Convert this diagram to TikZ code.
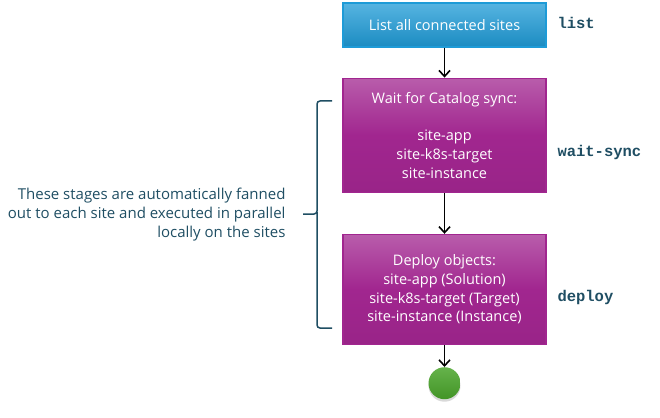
\documentclass[tikz,border=0pt]{standalone}
\usepackage{fontspec}
\setmainfont{Open Sans}
\newfontfamily\codefont{Liberation Mono}
\usepackage{xcolor}
\usepackage{tikz}
\usetikzlibrary{arrows.meta}
\usetikzlibrary{positioning}
\usetikzlibrary{shadows}

\definecolor{noteteal}{HTML}{1F4E63}
\definecolor{listblue}{HTML}{1E9BD7}
\definecolor{stagepurple}{HTML}{A1268F}
\definecolor{donegreen}{HTML}{4AA52B}

\begin{document}
\begin{tikzpicture}[
  x=1pt, y=1pt,
  node distance=0mm,
  flow/.style={-{Straight Barb[length=6pt,width=11pt]}, line width=1.6pt},
  listbox/.style={draw=listblue, line width=1.2pt, minimum width=203pt, minimum height=44pt,
    top color=listblue!75!white, bottom color=listblue!90!black, text=white,
    font=\fontsize{14.5}{18}\selectfont},
  stagebox/.style={draw=stagepurple, line width=1.2pt, minimum width=203pt, align=center,
    top color=stagepurple!75!white, bottom color=stagepurple!95!black, middle color=stagepurple,
    text=white, font=\fontsize{14.5}{18.7}\selectfont},
  cmd/.style={anchor=west, text=noteteal, font=\codefont\bfseries\fontsize{15.5}{18}\selectfont},
  donedot/.style={circle, minimum size=32pt, inner sep=0pt,
    top color=donegreen!85!white, bottom color=donegreen!90!black,
    drop shadow={shadow xshift=0pt, shadow yshift=-2.5pt, opacity=0.3}}
]
\useasboundingbox (0,0) rectangle (660,-417);

\node[listbox] (list) at (444.5,-25) {List all connected sites};
\node[stagebox, minimum height=114pt, below=30pt of list] (sync)
  {Wait for Catalog sync:\\[18.7pt] site-app\\ site-k8s-target\\ site-instance};
\node[stagebox, minimum height=110pt, below=41pt of sync] (deploy)
  {Deploy objects:\\ site-app (Solution)\\ site-k8s-target (Target)\\ site-instance (Instance)};
\node[donedot, below=22pt of deploy] (done) {};

\draw[flow] (list) -- (sync);
\draw[flow] (sync) -- (deploy);
\draw[flow] (deploy) -- (done);

% stage names
\node[cmd] (listcmd) at (554,-23) {list};
\node[cmd] (synccmd) at (554,-152) {wait-sync};
\node[cmd] (deploycmd) at (554,-297) {deploy};

% brace round the fanned-out stages
\draw[noteteal, line width=1.5pt, rounded corners=3pt]
  (332,-101) -- (317,-101) -- (317,-214) -- (303,-214);
\draw[noteteal, line width=1.5pt, rounded corners=3pt]
  (317,-212) -- (317,-328) -- (332,-328);
\node[align=right, anchor=east, text=noteteal, font=\fontsize{15}{19}\selectfont] (note) at (289,-215)
  {These stages are automatically fanned\\ out to each site and executed in parallel\\ locally on the sites};
\end{tikzpicture}
\end{document}
